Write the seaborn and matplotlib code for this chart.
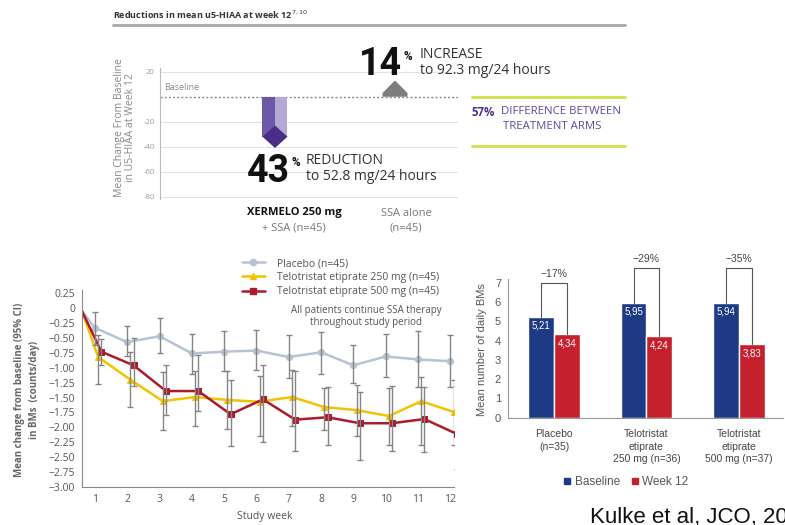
import numpy as np
import pandas as pd
import seaborn as sns
import matplotlib.pyplot as plt
from matplotlib.lines import Line2D
from matplotlib.patches import Polygon, Rectangle

sns.set_style("white")
plt.rcParams['font.family'] = ['Open Sans', 'DejaVu Sans']

W, H = 785, 525

# top panel: u5-HIAA change at week 12
arms = ["XERMELO 250 mg", "SSA alone"]
arm_notes = ["+ SSA (n=45)", "(n=45)"]
hiaa_change = [-43, 14]
hiaa_level = [52.8, 92.3]
hiaa_words = ["REDUCTION", "INCREASE"]
hiaa_yticks = [20, -20, -40, -60, -80]

# bottom left: change in BMs by study week
weeks = [0.6, 1, 2, 3, 4, 5, 6, 7, 8, 9, 10, 11, 12]
series_names = ["Placebo (n=45)",
                "Telotristat etiprate 250 mg (n=45)",
                "Telotristat etiprate 500 mg (n=45)"]
placebo = [-0.05, -0.33, -0.57, -0.47, -0.76, -0.73, -0.71, -0.82, -0.74, -0.96, -0.81, -0.86, -0.89]
placebo_hi = [-0.07, -0.30, -0.17, -0.43, -0.39, -0.36, -0.45, -0.40, -0.62, -0.43, -0.39, -0.45]
placebo_lo = [-0.62, -0.80, -0.76, -1.10, -1.06, -1.04, -1.17, -1.10, -1.26, -1.15, -1.32, -1.32]
telo250 = [-0.05, -0.82, -1.20, -1.56, -1.49, -1.54, -1.57, -1.49, -1.66, -1.71, -1.81, -1.56, -1.74]
telo250_hi = [-0.45, -0.74, -1.07, -1.06, -1.06, -1.14, -1.04, -1.34, -1.29, -1.34, -1.15, -1.20]
telo250_lo = [-1.27, -1.66, -2.04, -1.98, -2.02, -2.14, -1.98, -2.04, -2.15, -2.29, -2.29, -2.30]
telo500 = [-0.05, -0.73, -0.96, -1.39, -1.39, -1.78, -1.53, -1.87, -1.83, -1.93, -1.93, -1.86, -2.11]
telo500_hi = [-0.52, -0.50, -0.96, -0.79, -1.20, -0.95, -1.06, -1.33, -1.40, -1.30, -1.33, -1.30]
telo500_lo = [-0.95, -1.31, -1.80, -1.73, -2.31, -2.25, -2.40, -2.30, -2.55, -2.40, -2.42, -2.70]
bm_yticks = [0.25, 0, -0.25, -0.5, -0.75, -1.0, -1.25, -1.5, -1.75, -2.0, -2.25, -2.5, -2.75, -3.0]
bm_yticklabels = ["0.25", "0", "\u22120.25", "\u22120.50", "\u22120.75", "\u22121.00", "\u22121.25",
                  "\u22121.50", "\u22121.75", "\u22122.00", "\u22122.25", "\u22122.50", "\u22122.75", "\u22123.00"]

# bottom right: mean daily BMs
groups = ["Placebo\n(n=35)", "Telotristat\netiprate\n250 mg (n=36)", "Telotristat\netiprate\n500 mg (n=37)"]
baseline_bm = [5.21, 5.95, 5.94]
week12_bm = [4.34, 4.24, 3.83]
pct_labels = ["\u221217%", "\u221229%", "\u221235%"]
bracket_top = [7.0, 7.75, 7.75]

BLUE = "#1e3a84"
RED = "#c4202e"


def fx(x):
    return x / W


def fy(y):
    return 1 - y / H


def add_ax(fig, left, top, right, bottom):
    return fig.add_axes([left / W, 1 - bottom / H, (right - left) / W, (bottom - top) / H])


fig = plt.figure(figsize=(W / 100, H / 100), dpi=100)

# ---------------- top panel ----------------
fig.text(fx(113), fy(15), "Reductions in mean u5-HIAA at week 12$^{7,10}$",
         fontsize=6.5, fontweight="bold", color="#333", va="center")
fig.add_artist(Line2D([fx(113), fx(625)], [fy(25), fy(25)], color="#a8a8a8", lw=2))

ax_top = add_ax(fig, 160, 68, 458, 199.2)
ax_top.set_xlim(-0.958, 1.525)
ax_top.set_ylim(-82, 23)
for yv in hiaa_yticks:
    ax_top.axhline(yv, color="#e2e2e2", lw=0.8, zorder=0)
ax_top.axhline(0, color="#8a8a8a", lw=1, ls=(0, (1.5, 1.5)), zorder=1)
ax_top.set_yticks(hiaa_yticks)
ax_top.set_yticklabels([str(v) for v in hiaa_yticks], fontsize=5.5, color="#999")
ax_top.tick_params(axis="y", length=2, color="#bbb", pad=2)
ax_top.set_xticks([])
for s in ["top", "right", "bottom"]:
    ax_top.spines[s].set_visible(False)
ax_top.spines["left"].set_color("#bbb")
ax_top.text(-0.92, 3.5, "Baseline", fontsize=6.5, color="#888", va="bottom")

# XERMELO arrow: two-tone shaft + diamond tip
hw = 0.104
tip = hiaa_change[0]
ax_top.add_patch(Rectangle((-hw, tip + 11), hw, -(tip + 11), color="#6d58a8", lw=0))
ax_top.add_patch(Rectangle((0, tip + 11), hw, -(tip + 11), color="#b4a9d6", lw=0))
ax_top.add_patch(Polygon([(0, tip + 20), (hw, tip + 11), (0, tip + 2), (-hw, tip + 11)],
                         closed=True, color="#4a2d86", lw=0))
# SSA alone marker
top = hiaa_change[1]
ax_top.add_patch(Polygon([(1 - hw, 0), (1 - hw, 3), (1, top - 1), (1 + hw, 3), (1 + hw, 0)],
                         closed=True, color="#7d7d7d", lw=0))

fig.text(fx(125), fy(128), "Mean Change From Baseline\nin U5-HIAA at Week 12", rotation=90,
         fontsize=7.5, color="#888", ha="center", va="center", linespacing=1.1)

# big numbers
fig.text(fx(290), fy(182), f"{abs(hiaa_change[0])}", fontsize=27, fontweight="bold",
         family="Roboto", ha="right", va="baseline", color="#111")
fig.text(fx(292), fy(156), "%", fontsize=8.5, fontweight="bold", family="Roboto",
         ha="left", va="top", color="#111")
fig.text(fx(306), fy(161), hiaa_words[0], fontsize=10, color="#333", va="center")
fig.text(fx(306), fy(176), f"to {hiaa_level[0]} mg/24 hours", fontsize=10, color="#333", va="center")

fig.text(fx(402), fy(75), f"{abs(hiaa_change[1])}", fontsize=27, fontweight="bold",
         family="Roboto", ha="right", va="baseline", color="#111")
fig.text(fx(404), fy(50), "%", fontsize=8.5, fontweight="bold", family="Roboto",
         ha="left", va="top", color="#111")
fig.text(fx(420), fy(55), hiaa_words[1], fontsize=10, color="#333", va="center")
fig.text(fx(420), fy(71), f"to {hiaa_level[1]} mg/24 hours", fontsize=10, color="#333", va="center")

# arm labels
fig.text(fx(294), fy(213), arms[0], fontsize=8, fontweight="bold", ha="center", va="center", color="#111")
fig.text(fx(294), fy(228), arm_notes[0], fontsize=8, ha="center", va="center", color="#777")
fig.text(fx(406), fy(213), arms[1], fontsize=8, ha="center", va="center", color="#777")
fig.text(fx(406), fy(228), arm_notes[1], fontsize=8, ha="center", va="center", color="#777")

# difference box
diff = hiaa_change[1] - hiaa_change[0]
for yy in [97, 146]:
    fig.add_artist(Line2D([fx(472), fx(625)], [fy(yy), fy(yy)], color="#cfe048", lw=2))
fig.text(fx(472), fy(112), f"{diff}%", fontsize=8.3, fontweight="bold", color="#4e2f8c", va="center")
fig.text(fx(501), fy(112), "DIFFERENCE BETWEEN", fontsize=8.2, color="#5a4a9a", va="center")
fig.text(fx(552), fy(127), "TREATMENT ARMS", fontsize=8.2, color="#5a4a9a", va="center", ha="center")

# ---------------- bottom left ----------------
ax_bm = add_ax(fig, 82, 290.3, 453.5, 487)
series = [
    (placebo, placebo_lo, placebo_hi, "#b7c3d3", "o", 0.0),
    (telo250, telo250_lo, telo250_hi, "#f2c300", "^", 0.1),
    (telo500, telo500_lo, telo500_hi, "#a81c2c", "s", 0.2),
]
handles = []
for (vals, lo, hi, color, marker, shift), name in zip(series, series_names):
    xs = [weeks[0]] + [w + shift for w in weeks[1:]]
    yerr = [np.array(vals[1:]) - np.array(lo), np.array(hi) - np.array(vals[1:])]
    ax_bm.errorbar(xs[1:], vals[1:], yerr=yerr, fmt="none", ecolor="#858585",
                   elinewidth=1, capsize=2, capthick=1, zorder=3)
    sns.lineplot(x=xs, y=vals, color=color, marker=marker, markersize=4.5,
                 markeredgecolor=color, lw=1.8, markevery=list(range(1, len(xs))),
                 ax=ax_bm, zorder=2, sort=False, errorbar=None)
    handles.append(Line2D([], [], color=color, marker=marker, markersize=4.5, lw=1.8,
                          markeredgecolor=color))
ax_bm.set_xlim(0.6, 12.1)
ax_bm.set_ylim(-3.0, 0.3)
ax_bm.set_xticks(weeks[1:])
ax_bm.set_xticklabels([str(w) for w in weeks[1:]], fontsize=7.5, color="#555")
ax_bm.set_yticks(bm_yticks)
ax_bm.set_yticklabels(bm_yticklabels, fontsize=7.5, color="#555")
ax_bm.tick_params(length=3, color="#888", pad=2)
for s in ["top", "right"]:
    ax_bm.spines[s].set_visible(False)
for s in ["left", "bottom"]:
    ax_bm.spines[s].set_color("#888")
ax_bm.set_xlabel("")
ax_bm.set_ylabel("")
fig.text(fx(265), fy(516), "Study week", fontsize=7.5, color="#555", ha="center", va="center")
fig.text(fx(27), fy(390), "Mean change from baseline (95% CI)\nin BMs  (counts/day)", rotation=90,
         fontsize=7, fontweight="bold", color="#666", ha="center", va="center", linespacing=1.5)
ax_bm.legend(handles, series_names, loc="upper left", bbox_to_anchor=(fx(242), fy(258)),
             bbox_transform=fig.transFigure, frameon=False, fontsize=7.5, handlelength=2.2,
             labelspacing=0.3, borderpad=0, borderaxespad=0, handletextpad=1.2, labelcolor="#555")
fig.text(fx(366), fy(316.5), "All patients continue SSA therapy\nthroughout study period",
         fontsize=7, color="#555", ha="center", va="center", linespacing=1.2)

# ---------------- bottom right ----------------
plt.rcParams['font.family'] = ['Liberation Sans', 'DejaVu Sans']
ax_bar = add_ax(fig, 508, 249.8, 783, 417.7)
bar_df = pd.DataFrame({
    "group": groups * 2,
    "period": ["Baseline"] * 3 + ["Week 12"] * 3,
    "value": baseline_bm + week12_bm,
})
sns.barplot(data=bar_df, x="group", y="value", hue="period", palette=[BLUE, RED],
            width=0.56, saturation=1, ax=ax_bar, legend=False)
ax_bar.set_xlim(-0.5, 2.48)
ax_bar.set_ylim(0, 8.7)
ax_bar.set_yticks(range(8))
ax_bar.set_yticklabels([str(v) for v in range(8)], fontsize=8, color="#555", family="Liberation Sans")
ax_bar.set_xticks(range(3))
ax_bar.set_xticklabels(groups, fontsize=7.5, color="#444", family="Liberation Sans", linespacing=1.35)
ax_bar.set_xticks([0.5, 1.5], minor=True)
ax_bar.tick_params(axis="x", which="major", length=0, pad=8)
ax_bar.tick_params(axis="x", which="minor", length=3, color="#888", direction="out")
ax_bar.tick_params(axis="y", length=3, color="#888", pad=2)
ax_bar.set_xlabel("")
ax_bar.set_ylabel("")
for s in ["top", "right"]:
    ax_bar.spines[s].set_visible(False)
ax_bar.spines["left"].set_bounds(0, 7.2)
for s in ["left", "bottom"]:
    ax_bar.spines[s].set_color("#999")

off = 0.14
for i in range(3):
    b, w = baseline_bm[i], week12_bm[i]
    ax_bar.plot([i - off, i - off, i + off, i + off], [b, bracket_top[i], bracket_top[i], w],
                color="#555", lw=0.8)
    ax_bar.text(i, bracket_top[i] + 0.2, pct_labels[i], ha="center", va="bottom",
                fontsize=7.5, color="#444", family="Liberation Sans")
    ax_bar.text(i - off, b - 0.45, f"{b:.2f}".replace(".", ","), ha="center", va="center",
                fontsize=7, color="white", family="Liberation Sans")
    ax_bar.text(i + off, w - 0.5, f"{w:.2f}".replace(".", ","), ha="center", va="center",
                fontsize=7, color="white", family="Liberation Sans")

fig.text(fx(482), fy(350), "Mean number of daily BMs", rotation=90, fontsize=8, color="#555",
         ha="center", va="center", family="Liberation Sans")
bar_handles = [Line2D([], [], marker="s", color=c, lw=0, markersize=5) for c in [BLUE, RED]]
fig.legend(bar_handles, ["Baseline", "Week 12"], loc="center left", bbox_to_anchor=(fx(558), fy(482)),
           frameon=False, ncol=2, handlelength=0.6, handletextpad=0.3,
           columnspacing=1.0, labelcolor="#555", borderpad=0, prop={"family": "Liberation Sans", "size": 8.5})

fig.text(fx(590), fy(523), "Kulke et al, JCO, 2017", fontsize=16, color="#111",
         family="Liberation Sans", va="baseline")

fig.savefig("out.png", dpi=100)
